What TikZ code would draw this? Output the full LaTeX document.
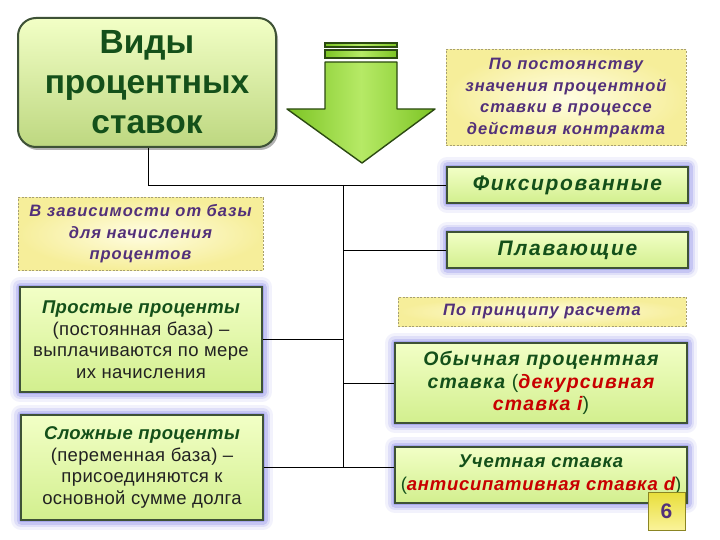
\documentclass[tikz,border=0pt]{standalone}
\usepackage{fontspec}
\setmainfont{Liberation Sans}
\definecolor{gbord}{HTML}{3E5236}
\definecolor{gtop}{HTML}{F2FFC6}
\definecolor{gbot}{HTML}{D2EF8E}
\definecolor{glowc}{HTML}{6464E0}
\definecolor{ybord}{HTML}{A8A070}
\definecolor{yin}{HTML}{FFFDE2}
\definecolor{yout}{HTML}{F6EE9A}
\definecolor{tgreen}{HTML}{14501A}
\definecolor{tpurp}{HTML}{52307A}
\definecolor{tred}{HTML}{C80000}
\definecolor{ttext}{HTML}{222222}
\definecolor{arrl}{HTML}{7CC424}
\definecolor{arrm}{HTML}{B6EA66}
\definecolor{arrb}{HTML}{2C4A12}
\definecolor{badgeY}{HTML}{E8DE3A}
\definecolor{badgeL}{HTML}{FAF39A}
\begin{document}
\begin{tikzpicture}[x=1pt,y=-1pt,
  greenbox/.style={draw=gbord, line width=1.2pt, top color=gtop, bottom color=gbot,
    inner sep=2pt, align=center,
    preaction={draw=glowc, line width=20pt, draw opacity=0.08, line join=round},
    preaction={draw=glowc, line width=14pt, draw opacity=0.13, line join=round},
    preaction={draw=glowc, line width=9pt, draw opacity=0.2, line join=round},
    preaction={draw=glowc, line width=4pt, draw opacity=0.3, line join=round}},
  yellowbox/.style={draw=ybord, line width=1pt, dash pattern=on 2pt off 1.5pt,
    inner color=yin, outer color=yout, inner sep=2pt, align=center,
    font=\fontsize{16.5}{21.5}\selectfont\bfseries\itshape\addfontfeatures{LetterSpace=6}, text=tpurp},
  headtxt/.style={font=\fontsize{21}{23}\selectfont\bfseries\itshape\addfontfeatures{LetterSpace=8}, text=tgreen},
  conn/.style={draw=black, line width=0.8pt}]
\useasboundingbox (0,0) rectangle (720,540);
\fill[white] (0,0) rectangle (720,540);

% title box
\node[draw=gbord, line width=2pt, rounded corners=18pt, top color=gtop, bottom color=gbot!90!black,
  minimum width=258pt, minimum height=129pt, inner sep=0pt, align=center,
  preaction={fill=black!30, transform canvas={shift={(2pt,-3pt)}}, rounded corners=18pt},
  font=\fontsize{33.5}{40}\selectfont\bfseries, text=tgreen] (title) at (147,82.5)
  {Виды\\процентных\\ставок};

% arrow
\draw[arrb, line width=1.2pt, left color=arrl, right color=arrl, middle color=arrm]
  (325,43) rectangle (397,47);
\draw[arrb, line width=1.2pt, left color=arrl, right color=arrl, middle color=arrm]
  (325,50) rectangle (397,58);
\draw[arrb, line width=1.4pt, line join=round, left color=arrl, right color=arrl, middle color=arrm]
  (325,62) -- (397,62) -- (397,109) -- (435,109) -- (362,163) -- (287,109) -- (325,109) -- cycle;

% right column
\node[yellowbox, minimum width=240pt, minimum height=96pt] (y1) at (566,98)
  {По постоянству\\значения процентной\\ставки в процессе\\действия контракта};
\node[greenbox, headtxt, minimum width=241pt, minimum height=36pt] (fix) at (567.5,185)
  {Фиксированные};
\node[greenbox, headtxt, minimum width=241pt, minimum height=36pt] (plav) at (567.5,250)
  {Плавающие};
\node[yellowbox, minimum width=288pt, minimum height=29pt] (y2) at (542,311.5)
  {По принципу расчета};
\node[greenbox, font=\fontsize{19.5}{22.5}\selectfont\bfseries\itshape\addfontfeatures{LetterSpace=6}, text=tgreen,
  minimum width=292pt, minimum height=80pt] (obych) at (541,383)
  {Обычная процентная\\ставка {\mdseries\upshape(}{\color{tred}декурсивная}\\{\color{tred}ставка i}{\mdseries\upshape)}};
\node[greenbox, font=\fontsize{18.5}{23}\selectfont\bfseries\itshape\addfontfeatures{LetterSpace=4}, text=tgreen,
  minimum width=292pt, minimum height=56pt] (uchet) at (541,475)
  {Учетная ставка\\{\mdseries\upshape(}{\color{tred}антисипативная ставка d}{\mdseries\upshape)}};
\node[draw=badgeY!60!black, line width=0.8pt, top color=badgeY, bottom color=badgeL,
  minimum width=37pt, minimum height=38pt, inner sep=0pt,
  font=\fontsize{21}{22}\selectfont\bfseries, text=tpurp] (badge) at (666.5,511) {6};

% left column
\node[yellowbox, minimum width=245pt, minimum height=72pt] (y3) at (140.5,234)
  {В зависимости от базы\\для начисления\\процентов};
\node[greenbox, font=\fontsize{18.5}{21.5}\selectfont\addfontfeatures{LetterSpace=2}, text=ttext,
  minimum width=242pt, minimum height=105pt] (prost) at (141,339.5)
  {{\bfseries\itshape\color{tgreen}Простые проценты}\\(постоянная база) –\\выплачиваются по мере\\их начисления};
\node[greenbox, font=\fontsize{18.5}{21.5}\selectfont\addfontfeatures{LetterSpace=2}, text=ttext,
  minimum width=242pt, minimum height=105pt] (slozh) at (142,467.5)
  {{\bfseries\itshape\color{tgreen}Сложные проценты}\\(переменная база) –\\присоединяются к\\основной сумме долга};

% connectors
\coordinate (j1) at (148,185);
\coordinate (t1) at (343,185);
\coordinate (t2) at (343,467);
\draw[conn] (title.south -| j1) -- (j1) -- (fix.west);
\draw[conn] (t1) -- (t2);
\draw[conn] (t1 |- plav.west) -- (plav.west);
\draw[conn] (t1 |- prost.east) -- (prost.east);
\draw[conn] (t1 |- obych.west) -- (obych.west);
\draw[conn] (slozh.east |- t2) -- (uchet.west |- t2);
\end{tikzpicture}
\end{document}
